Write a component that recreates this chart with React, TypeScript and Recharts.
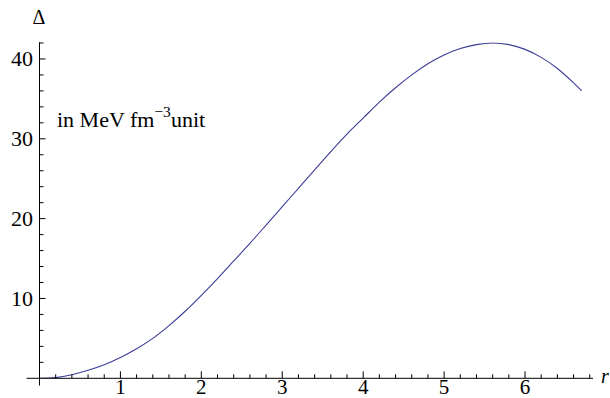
import React from 'react';
import { LineChart, Line, XAxis, YAxis, ReferenceLine, Customized } from 'recharts';

const rValues = [0, 0.2, 0.4, 0.6, 0.8, 1.0, 1.2, 1.4, 1.6, 1.8, 2.0, 2.2, 2.4, 2.6, 2.8, 3.0, 3.2, 3.4, 3.6, 3.8, 4.0, 4.2, 4.4, 4.6, 4.8, 5.0, 5.2, 5.4, 5.6, 5.8, 6.0, 6.2, 6.4, 6.6, 6.7];
const deltaValues = [0, 0.08, 0.45, 1.0, 1.7, 2.6, 3.7, 5.0, 6.6, 8.4, 10.4, 12.5, 14.7, 16.9, 19.2, 21.5, 23.8, 26.1, 28.4, 30.6, 32.6, 34.6, 36.4, 38.0, 39.4, 40.5, 41.3, 41.8, 42.0, 41.8, 41.2, 40.2, 38.8, 37.0, 36.0];

const xTicks = [0.2, 0.4, 0.6, 0.8, 1, 1.2, 1.4, 1.6, 1.8, 2, 2.2, 2.4, 2.6, 2.8, 3, 3.2, 3.4, 3.6, 3.8, 4, 4.2, 4.4, 4.6, 4.8, 5, 5.2, 5.4, 5.6, 5.8, 6, 6.2, 6.4, 6.6, 6.8];
const xLabelTicks = [1, 2, 3, 4, 5, 6];
const yTicks = [2, 4, 6, 8, 10, 12, 14, 16, 18, 20, 22, 24, 26, 28, 30, 32, 34, 36, 38, 40, 42];
const yLabelTicks = [10, 20, 30, 40];

const xDomain = [0, 6.84];
const yDomain = [0, 42.1];

const data = rValues.map((r, i) => ({ r, delta: deltaValues[i] }));

const SERIF = 'Liberation Serif';
const LINE_COLOR = '#3d3d99';

const XTick = (props: any) => {
  const { x, y, payload } = props;
  const v = payload.value;
  const major = xLabelTicks.some((t) => Math.abs(t - v) < 1e-6);
  return (
    <g>
      <line x1={x} y1={y} x2={x} y2={y - (major ? 7 : 4)} stroke="#000" strokeWidth={1} />
      {major && (
        <text x={x} y={y + 15.5} textAnchor="middle" fontFamily={SERIF} fontSize={21} fill="#000">
          {v}
        </text>
      )}
    </g>
  );
};

const YTick = (props: any) => {
  const { x, y, payload } = props;
  const v = payload.value;
  const major = yLabelTicks.some((t) => Math.abs(t - v) < 1e-6);
  return (
    <g>
      <line x1={x} y1={y} x2={x + (major ? 6 : 4)} y2={y} stroke="#000" strokeWidth={1} />
      {major && (
        <text x={x - 6.5} y={y + 7.5} textAnchor="end" fontFamily={SERIF} fontSize={22} fill="#000">
          {v}
        </text>
      )}
    </g>
  );
};

const Annotations = () => (
  <g fill="#000">
    <text x={39} y={24} textAnchor="middle" fontFamily={SERIF} fontSize={20}>Δ</text>
    <text x={57} y={127} fontFamily={SERIF} fontSize={22}>
      in MeV fm
      <tspan fontSize={15.5} dy={-10}>−3</tspan>
      <tspan fontSize={22} dy={10}>unit</tspan>
    </text>
    <text x={601} y={383} fontFamily={SERIF} fontSize={20} fontStyle="italic">r</text>
  </g>
);

export default function App() {
  return (
    <div style={{ position: 'absolute', left: 0, top: 0, width: 610, height: 398, background: '#fff' }}>
      <LineChart
        width={610}
        height={398}
        data={data}
        margin={{ top: 42.2, right: 17, bottom: 0, left: 0 }}
      >
        <XAxis
          type="number"
          dataKey="r"
          domain={xDomain}
          allowDataOverflow
          ticks={xTicks}
          interval={0}
          height={19.7}
          tickSize={0}
          tickMargin={0}
          tickLine={false}
          axisLine={{ stroke: '#000', strokeWidth: 1 }}
          tick={<XTick />}
        />
        <YAxis
          type="number"
          dataKey="delta"
          domain={yDomain}
          allowDataOverflow
          ticks={yTicks}
          interval={0}
          width={39.5}
          tickSize={0}
          tickMargin={0}
          tickLine={false}
          axisLine={{ stroke: '#000', strokeWidth: 1 }}
          tick={<YTick />}
        />
        <ReferenceLine
          segment={[{ x: -0.16, y: 0 }, { x: 0, y: 0 }]}
          stroke="#000"
          strokeWidth={1}
          ifOverflow="visible"
        />
        <ReferenceLine
          segment={[{ x: 0, y: -0.9 }, { x: 0, y: 0 }]}
          stroke="#000"
          strokeWidth={1}
          ifOverflow="visible"
        />
        <Line
          type="natural"
          dataKey="delta"
          stroke={LINE_COLOR}
          strokeWidth={1.1}
          dot={false}
          activeDot={false}
          isAnimationActive={false}
        />
        <Customized component={<Annotations />} />
      </LineChart>
    </div>
  );
}
